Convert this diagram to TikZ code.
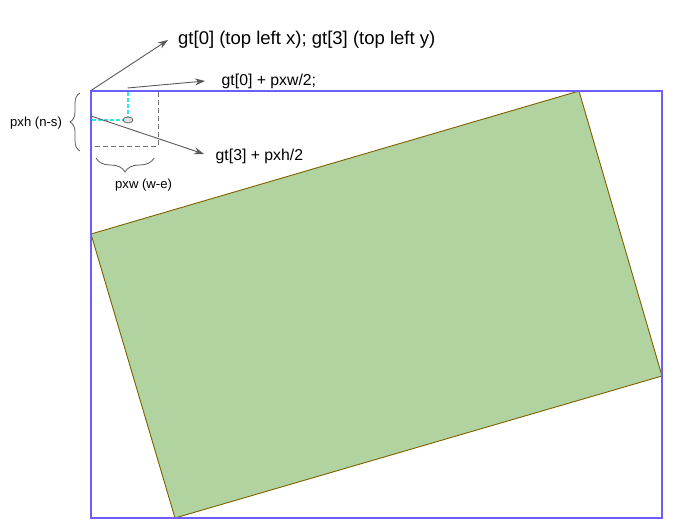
\documentclass[tikz,border=0pt]{standalone}
\usepackage{fontspec}
\setmainfont{Liberation Sans}
\usetikzlibrary{arrows.meta,decorations.pathreplacing,shapes.geometric}
\definecolor{frameblue}{HTML}{6D5DFC}
\definecolor{greenfill}{HTML}{B0D3A0}
\definecolor{greenline}{HTML}{7F6000}
\definecolor{arrowgray}{HTML}{595959}
\definecolor{lightcyan}{HTML}{2EE6F0}
\tikzset{
  pointer/.style={draw=arrowgray, line width=0.9pt, -{Stealth[length=10pt,width=7pt]}},
  lbl/.style={anchor=west, inner sep=0pt, text=black},
  graydash/.style={draw=arrowgray!85, dash pattern=on 5pt off 3pt, line width=0.9pt},
  cyandash/.style={draw=lightcyan, dash pattern=on 4pt off 2pt, line width=1.3pt},
  bracestyle/.style={draw=arrowgray, line width=0.8pt, decorate}
}
\begin{document}
\begin{tikzpicture}[x=1pt,y=-1pt]
\useasboundingbox (0,0) rectangle (683,530);
% green rotated rectangle
\draw[fill=greenfill, draw=greenline, line width=0.9pt] (91,234) -- (579,91) -- (662,376) -- (175,518) -- cycle;
% blue frame
\draw[frameblue, line width=1.2pt] (91,91) rectangle (662,518);
% pixel box
\draw[graydash] (158,92) -- (158,146) -- (91,146);
\coordinate (cpx) at (128,120);
\coordinate (cpt) at (128,92);
\coordinate (cpl) at (92,120);
\draw[cyandash] (cpt) -- (cpx);
\draw[cyandash] (cpl) -- (cpx);
% arrows
\coordinate (s1) at (91,90.5);
\coordinate (e1) at (168,40);
\coordinate (s2) at (127.5,88);
\coordinate (e2) at (205,81);
\coordinate (s3) at (91,116);
\coordinate (e3) at (204,154);
\draw[pointer] (s1) -- (e1);
\draw[pointer] (s2) -- (e2);
\draw[pointer] (s3) -- (e3);
\node[draw=arrowgray, fill=gray!25, ellipse, minimum width=10pt, minimum height=6pt, inner sep=0pt, line width=0.7pt] (ell) at (cpx) {};
% labels
\node[lbl, font=\fontsize{18.5}{20}\selectfont] (t1) at (178,40) {gt[0] (top left x); gt[3] (top left y)};
\node[lbl, font=\fontsize{15.8}{18}\selectfont] (t2) at (221.5,81.5) {gt[0] + pxw/2;};
\node[lbl, font=\fontsize{15.8}{18}\selectfont] (t3) at (215.5,156.5) {gt[3] + pxh/2};
\node[lbl, font=\fontsize{13.1}{15}\selectfont] (t4) at (10,123) {pxh (n-s)};
\node[lbl, font=\fontsize{13.1}{15}\selectfont] (t5) at (115,185) {pxw (w-e)};
% braces
\coordinate (b1a) at (80,151);
\coordinate (b1b) at (80,93);
\coordinate (b2a) at (154,158);
\coordinate (b2b) at (96,158);
\draw[bracestyle, decoration={brace, amplitude=10pt}] (b1a) -- (b1b);
\draw[bracestyle, decoration={brace, amplitude=14pt}] (b2a) -- (b2b);
\end{tikzpicture}
\end{document}
